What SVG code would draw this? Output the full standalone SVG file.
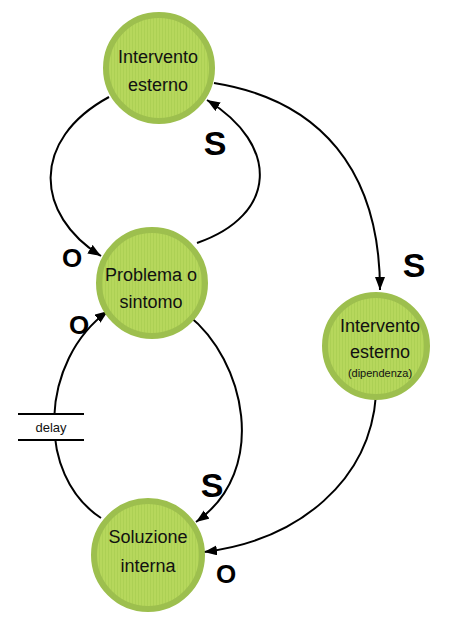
<svg xmlns="http://www.w3.org/2000/svg" width="451" height="626" viewBox="0 0 451 626">
<style>
.node{fill:url(#stripes);stroke:#9dbf4e;stroke-width:6}
.lbl{font-family:"Liberation Sans",Arial,sans-serif;font-size:18px;fill:#111;text-anchor:middle}
.small{font-size:11px}
.edge{fill:none;stroke:#000;stroke-width:2;marker-end:url(#arr)}
.so{font-family:"Liberation Sans",Arial,sans-serif;font-weight:bold;fill:#000;text-anchor:middle}
.s{font-size:34px}
.o{font-size:26px}
</style>
<defs>
<pattern id="stripes" patternUnits="userSpaceOnUse" width="3" height="10">
<rect width="3" height="10" fill="#b6d75c"/>
<rect width="1" height="10" fill="#acd054"/>
</pattern>
<marker id="arr" markerUnits="userSpaceOnUse" markerWidth="14" markerHeight="12" refX="13" refY="5" orient="auto">
<path d="M0,0 L13,5 L0,10 z" fill="#000"/>
</marker>
</defs>
<rect width="451" height="626" fill="#fff"/>
<g id="connectors">
<path class="edge" d="M109,97 C30,140 35,215 101,256"/>
<path class="edge" d="M197,243 C278,215 280,145 207,100"/>
<path class="edge" d="M214,83 C320,100 380,170 380,290"/>
<path class="edge" d="M188,315 C245,360 270,470 196,522"/>
<path class="edge" d="M376,395 C370,480 300,540 204,552"/>
<path class="edge" d="M101,518 C35,475 40,360 108,311"/>
<text class="so o" x="72" y="267">O</text>
<text class="so s" x="215" y="155">S</text>
<text class="so s" x="414" y="277">S</text>
<text class="so o" x="79" y="334">O</text>
<text class="so s" x="212" y="497">S</text>
<text class="so o" x="226" y="583">O</text>
</g>
<g id="delay">
<rect x="18" y="415" width="66" height="24" fill="#fff"/>
<line x1="18" y1="414" x2="84" y2="414" stroke="#000" stroke-width="2"/>
<line x1="18" y1="440" x2="84" y2="440" stroke="#000" stroke-width="2"/>
<text x="51" y="432" font-family="'Liberation Sans',Arial,sans-serif" font-size="13" text-anchor="middle" fill="#111">delay</text>
</g>
<g id="node-intervento-esterno">
<circle class="node" cx="159" cy="68" r="53"/>
<text class="lbl" x="158" y="63">Intervento</text>
<text class="lbl" x="158" y="91">esterno</text>
</g>
<g id="node-problema">
<circle class="node" cx="152" cy="283" r="53"/>
<text class="lbl" x="151" y="281">Problema o</text>
<text class="lbl" x="151" y="308">sintomo</text>
</g>
<g id="node-intervento-dipendenza">
<circle class="node" cx="376" cy="346" r="51"/>
<text class="lbl" x="380" y="332">Intervento</text>
<text class="lbl" x="380" y="358">esterno</text>
<text class="lbl small" x="380" y="377">(dipendenza)</text>
</g>
<g id="node-soluzione">
<circle class="node" cx="148" cy="555" r="54"/>
<text class="lbl" x="148" y="543">Soluzione</text>
<text class="lbl" x="148" y="572">interna</text>
</g>
</svg>
